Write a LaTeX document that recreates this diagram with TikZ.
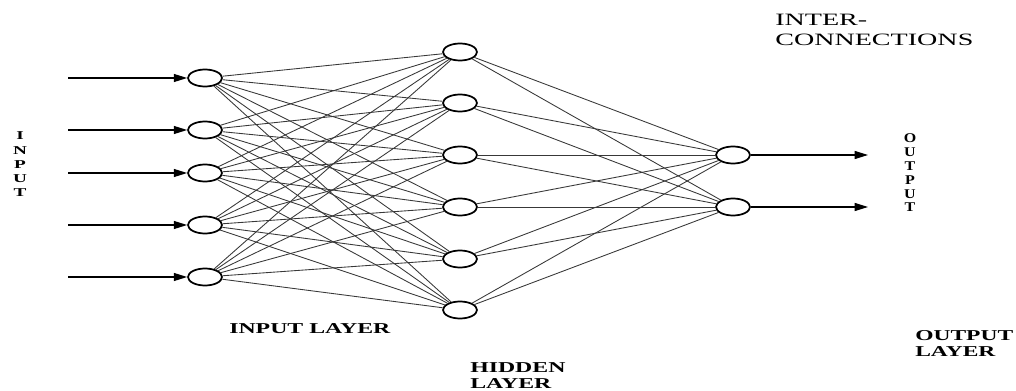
\documentclass[tikz,border=0pt]{standalone}
\usepackage{fontspec}
\setmainfont{Liberation Serif}
\usetikzlibrary{arrows.meta,shapes.geometric}
\newcommand\stx[2]{\scalebox{#1}[1]{#2}}
\tikzset{
  neuron/.style={ellipse,draw=black,line width=1.3pt,fill=white,inner sep=0pt,
                 minimum width=25.5pt,minimum height=12.75pt},
  link/.style={draw=black!78,line width=0.65pt},
  flow/.style={draw=black,line width=0.9pt,-{Triangle[length=10pt,width=6pt]}},
  lbl/.style={inner sep=0pt,font=\fontsize{11.3}{12}\selectfont\bfseries,align=left},
  toplbl/.style={inner sep=0pt,font=\fontsize{13}{15}\selectfont,align=left},
  vin/.style={inner sep=0pt,font=\fontsize{9}{10.7}\selectfont\bfseries,align=center},
  vout/.style={inner sep=0pt,font=\fontsize{10}{10.4}\selectfont\bfseries,align=center}
}
\begin{document}
\begin{tikzpicture}[x=0.75pt,y=-0.75pt]
\useasboundingbox (0,0) rectangle (1016,391);
% input layer
\foreach \i/\y in {1/78,2/130,3/173,4/225,5/277}{
  \node[neuron] (i\i) at (205,\y) {};
  \coordinate (s\i) at (68,\y);
}
% hidden layer
\foreach \j/\y in {1/52,2/103,3/155,4/207,5/259,6/310}{
  \node[neuron] (h\j) at (460,\y) {};
}
% output layer
\foreach \k/\y in {1/155,2/207}{
  \node[neuron] (o\k) at (733,\y) {};
  \coordinate (e\k) at (868,\y);
}
% connections
\foreach \i in {1,...,5}{
  \foreach \j in {1,...,6}{
    \draw[link] (i\i) -- (h\j);
  }
}
\foreach \j in {1,...,6}{
  \foreach \k in {1,2}{
    \draw[link] (h\j) -- (o\k);
  }
}
% input / output arrows
\foreach \i in {1,...,5}{ \draw[flow] (s\i) -- (i\i); }
\foreach \k in {1,2}{ \draw[flow] (o\k) -- (e\k); }
% labels (base anchor = baseline of last line)
\node[toplbl,anchor=base west] (inter) at (775,46)
  {\stx{1.62}{INTER-}\\\stx{1.62}{CONNECTIONS}};
\node[lbl,anchor=base west] (inlayer) at (229,333) {\stx{1.58}{INPUT LAYER}};
\node[lbl,anchor=base west] (hidlayer) at (470,388) {\stx{1.58}{HIDDEN}\\\stx{1.58}{LAYER}};
\node[lbl,anchor=base west] (outlayer) at (915,356) {\stx{1.56}{OUTPUT}\\\stx{1.56}{LAYER}};
\node[vin,anchor=base] (vinput) at (20,197)
  {\stx{1.6}{I}\\\stx{1.6}{N}\\\stx{1.6}{P}\\\stx{1.6}{U}\\\stx{1.6}{T}};
\node[vout,anchor=base] (voutput) at (910,212)
  {\stx{1.2}{O}\\\stx{1.2}{U}\\\stx{1.2}{T}\\\stx{1.2}{P}\\\stx{1.2}{U}\\\stx{1.2}{T}};
\end{tikzpicture}
\end{document}
